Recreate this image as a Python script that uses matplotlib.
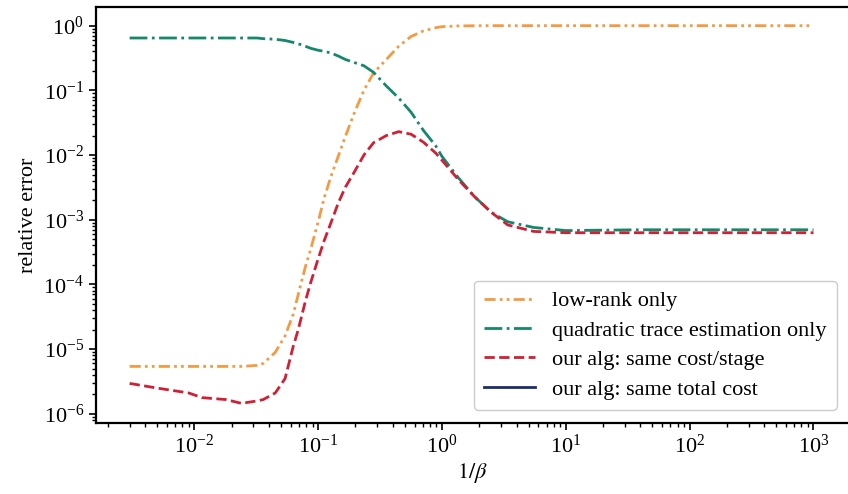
import matplotlib
matplotlib.use("Agg")
import matplotlib.pyplot as plt

# 1/beta sample points
x = [0.003, 0.005, 0.009, 0.0115, 0.018, 0.024, 0.032, 0.036, 0.045, 0.054,
     0.063, 0.069, 0.079, 0.087, 0.1, 0.112, 0.126, 0.145, 0.166, 0.195,
     0.234, 0.28, 0.355, 0.447, 0.562, 0.708, 0.891, 1.0, 1.35, 1.82,
     2.5, 3.4, 5.5, 10, 20, 40, 100, 300, 1000]

low_rank = [5.4e-6, 5.4e-6, 5.4e-6, 5.4e-6, 5.4e-6, 5.4e-6, 5.6e-6, 6.0e-6, 8.9e-6, 1.6e-5,
            3.5e-5, 7.0e-5, 1.9e-4, 3.5e-4, 9.3e-4, 2.2e-3, 4.5e-3, 9.5e-3, 0.0195, 0.044,
            0.1, 0.186, 0.3, 0.48, 0.68, 0.83, 0.93, 0.966, 0.99, 0.998,
            1.0, 1.0, 1.0, 1.0, 1.0, 1.0, 1.0, 1.0, 1.0]

quad_trace = [0.645, 0.645, 0.645, 0.645, 0.645, 0.645, 0.645, 0.63, 0.617, 0.59,
              0.55, 0.525, 0.48, 0.447, 0.417, 0.40, 0.38, 0.34, 0.30, 0.27,
              0.24, 0.19, 0.117, 0.076, 0.046, 0.024, 0.0138, 0.0095, 0.0045, 0.0023,
              0.0013, 9.3e-4, 7.6e-4, 6.8e-4, 6.9e-4, 7.0e-4, 7.0e-4, 7.0e-4, 7.0e-4]

same_cost_stage = [2.95e-6, 2.5e-6, 2.1e-6, 1.78e-6, 1.66e-6, 1.45e-6, 1.58e-6, 1.66e-6, 2.1e-6, 3.5e-6,
                   1.12e-5, 2.0e-5, 5.6e-5, 1.07e-4, 2.5e-4, 4.8e-4, 8.7e-4, 1.8e-3, 3.2e-3, 5.4e-3,
                   0.01, 0.0155, 0.02, 0.023, 0.021, 0.0158, 0.0107, 0.0083, 0.0042, 0.0023,
                   0.0013, 8.3e-4, 6.6e-4, 6.3e-4, 6.3e-4, 6.3e-4, 6.3e-4, 6.3e-4, 6.3e-4]

# not visible in the figure, only shows up in the legend
x_total = []
same_total_cost = []

xticks = [1e-2, 1e-1, 1e0, 1e1, 1e2, 1e3]
yticks = [1e-6, 1e-5, 1e-4, 1e-3, 1e-2, 1e-1, 1e0]

plt.rcParams['font.family'] = ['Liberation Serif', 'DejaVu Serif']
plt.rcParams['mathtext.fontset'] = 'stix'
plt.rcParams['font.size'] = 16

fig = plt.figure(figsize=(8.48, 4.94), dpi=100)
ax = fig.add_axes([0.113, 0.144, 0.887, 0.842])

ax.plot(x, low_rank, color='#f39a42', linestyle=(0, (4, 1.5, 1, 1.5, 1, 1.5)), lw=2,
        label='low-rank only')
ax.plot(x, quad_trace, color='#17876c', linestyle='-.', lw=2,
        label='quadratic trace estimation only')
ax.plot(x, same_cost_stage, color='#cf2035', linestyle='--', lw=2,
        label='our alg: same cost/stage')
ax.plot(x_total, same_total_cost, color='#1d2d6b', linestyle='-', lw=2,
        label='our alg: same total cost')

ax.set_xscale('log')
ax.set_yscale('log')
ax.set_xticks(xticks)
ax.set_yticks(yticks)
ax.set_xlim(1.6e-3, 1.9e3)
ax.set_ylim(10**-6.14, 10**0.29)

ax.spines['right'].set_visible(False)
for s in ['left', 'bottom', 'top']:
    ax.spines[s].set_linewidth(1.6)
ax.tick_params(which='major', length=5, width=1.2, labelsize=16)
ax.tick_params(which='minor', length=3, width=1.0)

ax.set_xlabel(r'$1/\beta$', fontsize=16, labelpad=2)
ax.set_ylabel('relative error', fontsize=16)

ax.legend(loc='lower right', bbox_to_anchor=(1.0, 0.005), fontsize=16,
          handlelength=2.3, frameon=True, edgecolor='#cccccc', framealpha=1.0,
          labelspacing=0.4, borderpad=0.45)

fig.savefig('out.png', dpi=100)
